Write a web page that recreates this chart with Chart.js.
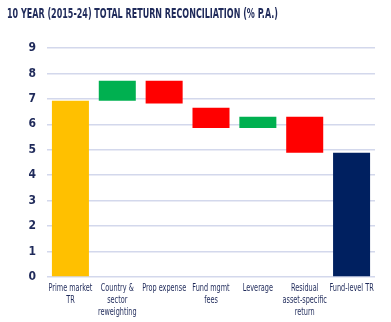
<!DOCTYPE html>
<html>
<head>
<meta charset="utf-8">
<script src="https://cdn.jsdelivr.net/npm/chart.js@4"></script>
<style>
  html, body { margin: 0; padding: 0; background: #fff; }
  #wrap { position: relative; width: 391px; height: 322px; }
</style>
</head>
<body>
<div id="wrap"><canvas id="chart" width="391" height="322"></canvas></div>
<script>
const title = '10 YEAR (2015-24) TOTAL RETURN RECONCILIATION (% P.A.)';
const categories = [
  ['Prime market', 'TR'],
  ['Country &', 'sector', 'reweighting'],
  'Prop expense',
  ['Fund mgmt', 'fees'],
  'Leverage',
  ['Residual', 'asset-specific', 'return'],
  'Fund-level TR'
];
// floating bar bottoms and tops (% p.a.)
const barLow  = [0,    6.93, 6.82, 5.86, 5.86, 4.88, 0];
const barHigh = [6.93, 7.71, 7.71, 6.65, 6.30, 6.30, 4.88];
const barColors = ['#FFC000', '#00B050', '#FF0000', '#FF0000', '#00B050', '#FF0000', '#002060'];
const yTicks = [0, 1, 2, 3, 4, 5, 6, 7, 8, 9];

const navy = '#1f2a5a';
const condensed = "'DejaVu Sans Condensed', 'DejaVu Sans', sans-serif";

// the title and category labels use a narrow display face; squeeze them horizontally
function squeezedText(ctx, text, x, y, sx, align) {
  ctx.save();
  ctx.translate(x, y);
  ctx.scale(sx, 1);
  ctx.textAlign = align;
  ctx.fillText(text, 0, 0);
  ctx.restore();
}

const narrowText = {
  id: 'narrowText',
  afterDraw(chart) {
    const ctx = chart.ctx;
    ctx.save();
    ctx.fillStyle = navy;
    ctx.textBaseline = 'alphabetic';

    ctx.font = `bold 13.5px ${condensed}`;
    squeezedText(ctx, title, 7, 17.5, 271 / ctx.measureText(title).width, 'left');

    ctx.font = `10px ${condensed}`;
    const sx = 44 / ctx.measureText('Prop expense').width;
    const xScale = chart.scales.x;
    categories.forEach((label, i) => {
      const lines = Array.isArray(label) ? label : [label];
      const cx = xScale.getPixelForValue(i);
      lines.forEach((line, j) => squeezedText(ctx, line, cx, 291 + j * 12, sx, 'center'));
    });
    ctx.restore();
  }
};

new Chart(document.getElementById('chart'), {
  type: 'bar',
  data: {
    labels: categories,
    datasets: [{
      data: barLow.map((lo, i) => [lo, barHigh[i]]),
      backgroundColor: barColors,
      borderWidth: 0,
      barPercentage: 0.79,
      categoryPercentage: 1
    }]
  },
  plugins: [narrowText],
  options: {
    responsive: false,
    animation: false,
    layout: { padding: { left: 0, right: 16, top: 48, bottom: 0 } },
    plugins: {
      legend: { display: false },
      tooltip: { enabled: false }
    },
    scales: {
      x: {
        grid: { display: false },
        border: { display: false },
        ticks: { display: false },
        afterFit: (scale) => { scale.height = 45; }
      },
      y: {
        min: 0,
        max: 9,
        afterBuildTicks: (scale) => { scale.ticks = yTicks.map(v => ({ value: v })); },
        grid: { color: '#d3d8ec', lineWidth: 1.5, drawTicks: false },
        border: { display: false },
        ticks: {
          color: navy,
          font: { family: condensed, size: 12, weight: 'bold' },
          padding: 11
        },
        afterFit: (scale) => { scale.width = 47; }
      }
    }
  }
});
</script>
</body>
</html>
